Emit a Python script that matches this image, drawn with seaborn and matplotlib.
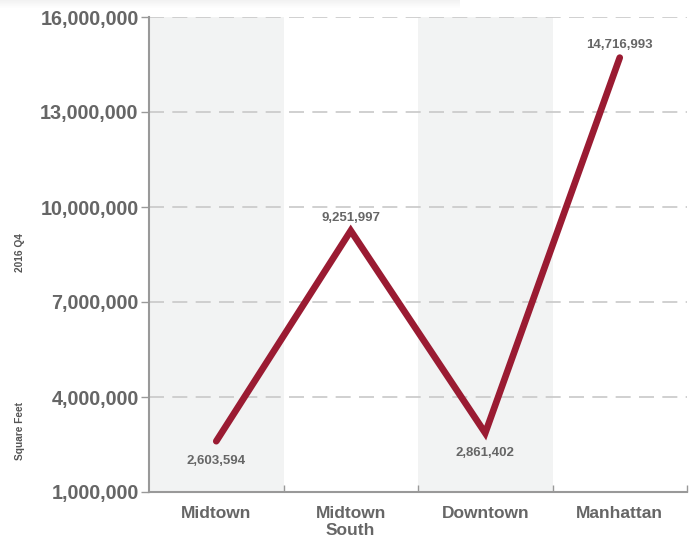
import matplotlib
matplotlib.use("Agg")
import matplotlib.pyplot as plt
import seaborn as sns
import pandas as pd
import numpy as np
from matplotlib.ticker import FixedLocator, FuncFormatter

categories = ["Midtown", "Midtown\nSouth", "Downtown", "Manhattan"]
values = [2603594, 9251997, 2861402, 14716993]
label_above = [False, True, False, True]
y_ticks = [1000000, 4000000, 7000000, 10000000, 13000000, 16000000]

sns.set_style("white")
plt.rcParams['font.family'] = ['Liberation Sans', 'DejaVu Sans']

df = pd.DataFrame({"region": categories, "sqft": values})

fig = plt.figure(figsize=(6.98, 5.41), dpi=100)
ax = fig.add_axes([149/698, 49/541, (687-149)/698, (492-17)/541])

# alternating bands
for i in range(len(categories)):
    if i % 2 == 0:
        ax.axvspan(i - 0.5, i + 0.5, color="#f2f3f3", zorder=0, lw=0)

# grid
for t in y_ticks:
    ax.axhline(t, color="#c8c8c8", lw=1.2, dashes=(9, 5), zorder=1)

sns.lineplot(data=df, x="region", y="sqft", sort=False, ax=ax,
             color="#9a1b32", linewidth=4.8, zorder=3)
for ln in ax.lines[-1:]:
    ln.set_solid_capstyle("round")
    ln.set_solid_joinstyle("miter")

for i, (v, up) in enumerate(zip(values, label_above)):
    ax.annotate(f"{v:,}", (i, v), xytext=(0, 5 if up else -10),
                textcoords="offset points", ha="center",
                va="bottom" if up else "top",
                fontsize=9.5, fontweight="bold", color="#666666", zorder=4)

ax.set_xlim(-0.5, len(categories) - 0.5)
ax.set_ylim(y_ticks[0], y_ticks[-1])
ax.yaxis.set_major_locator(FixedLocator(y_ticks))
ax.yaxis.set_major_formatter(FuncFormatter(lambda v, p: f"{int(v):,}"))
ax.set_xticks(range(len(categories)))
ax.set_xticklabels(categories)
ax.set_xticks([i + 0.5 for i in range(len(categories))], minor=True)

ax.tick_params(axis="y", which="major", length=6, width=1, color="#999999",
               labelsize=14.2, labelcolor="#666666", pad=1.5, direction="out", left=True)
ax.tick_params(axis="x", which="major", length=0, labelsize=12.5,
               labelcolor="#666666", pad=10)
ax.tick_params(axis="x", which="minor", length=5, width=1, color="#999999",
               direction="in", bottom=True)
for lab in ax.get_yticklabels() + ax.get_xticklabels():
    lab.set_fontweight("bold")

for s in ["top", "right"]:
    ax.spines[s].set_visible(False)
for s in ["left", "bottom"]:
    ax.spines[s].set_color("#999999")
    ax.spines[s].set_linewidth(1.5)

ax.set_xlabel("")
ax.set_ylabel("")

fig.text(20/698, 1 - 253/541, "2016 Q4", rotation=90, ha="center", va="center",
         fontsize=7.3, fontweight="bold", color="#555555")
fig.text(20/698, 1 - 431/541, "Square Feet", rotation=90, ha="center", va="center",
         fontsize=7.3, fontweight="bold", color="#555555")

# faint shadow at top
for k in range(8):
    fig.patches.append(plt.Rectangle((0, 1 - (k + 1) / 541), 460/698, 1/541,
                                     transform=fig.transFigure, color="#000000",
                                     alpha=0.05 * (1 - k / 8), lw=0))

fig.savefig("out.png", dpi=100)
